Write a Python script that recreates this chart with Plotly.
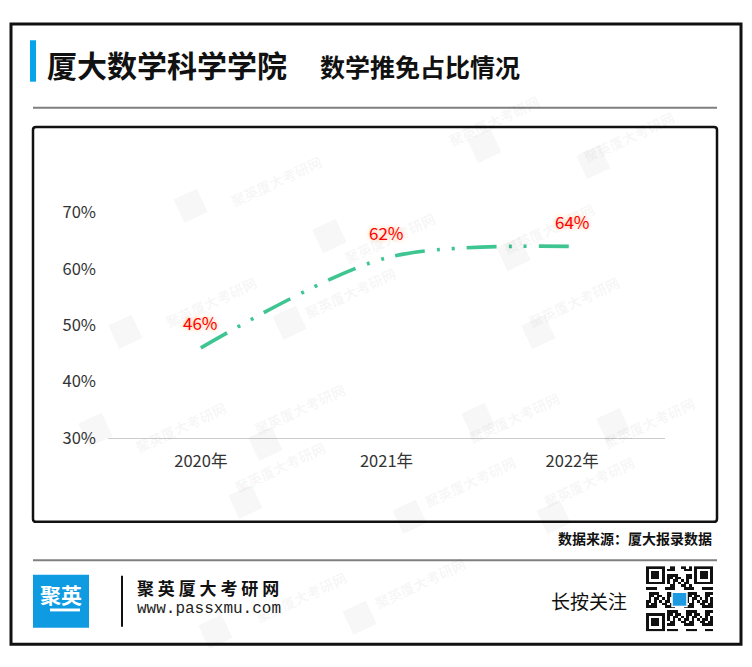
import plotly.graph_objects as go

# ---------------- data ----------------
years = ["2020年", "2021年", "2022年"]
ratio = [46, 62, 64]
label_text = ["46%", "62%", "64%"]
y_ticks = [30, 40, 50, 60, 70]
y_tick_text = ["30%", "40%", "50%", "60%", "70%"]

title_main = "厦大数学科学学院"
title_sub = "数学推免占比情况"
source_text = "数据来源：厦大报录数据"
brand_name = "聚 英 厦 大 考 研 网"
brand_url = "www.passxmu.com"
follow_text = "长按关注"
watermark = "聚英厦大考研网"

# page body has an 8px margin; figure is sized to fit inside the window
OFF = 8
W, H = 736, 651
FONT = "Noto Sans CJK SC"


def X(px):
    return (px - OFF) / W


def Y(py):
    return 1 - (py - OFF) / H


fig = go.Figure()

fig.add_trace(go.Scatter(
    x=years, y=ratio, mode="lines",
    line=dict(shape="spline", smoothing=0.85, color="#3ec592", width=3.6,
              dash="30px,12px,3px,12px,3px,12px"),
    hoverinfo="skip", showlegend=False,
))

# ---------- decorative QR code (pattern, not data) ----------
N = 25
qr = [[1 if ((i * i * 3 + j * 5 + i * j) % 7) < 4 else 0 for j in range(N)] for i in range(N)]


def finder(r0, c0):
    for a in range(7):
        for b in range(7):
            edge = a in (0, 6) or b in (0, 6)
            core = 2 <= a <= 4 and 2 <= b <= 4
            qr[r0 + a][c0 + b] = 1 if (edge or core) else 0
    for k in range(-1, 8):
        for (a, b) in ((r0 - 1, c0 + k), (r0 + 7, c0 + k), (r0 + k, c0 - 1), (r0 + k, c0 + 7)):
            if 0 <= a < N and 0 <= b < N:
                qr[a][b] = 0


finder(0, 0)
finder(0, N - 7)
finder(N - 7, 0)
for i in range(10, 15):
    for j in range(10, 15):
        qr[i][j] = 0

fig.add_trace(go.Heatmap(
    z=qr, xaxis="x2", yaxis="y2", showscale=False, hoverinfo="skip",
    colorscale=[[0, "white"], [1, "#111111"]], zmin=0, zmax=1,
))

shapes = []
shapes.append(dict(type="rect", xref="paper", yref="paper", x0=X(11), x1=X(741), y0=Y(11), y1=Y(655),
                   line=dict(color="#111111", width=3), layer="above"))
shapes.append(dict(type="rect", xref="paper", yref="paper", x0=X(30), x1=X(36), y0=Y(28), y1=Y(71),
                   fillcolor="#08a4ea", line=dict(width=0)))
shapes.append(dict(type="line", xref="paper", yref="paper", x0=X(33), x1=X(717), y0=Y(98), y1=Y(98),
                   line=dict(color="#7f7f7f", width=2)))
x0b, x1b, y0b, y1b, r = 33, 717, 118, 528, 3


def P(px, py):
    return f"{X(px)},{Y(py)}"


path = (f"M {P(x0b + r, y0b)} L {P(x1b - r, y0b)} Q {P(x1b, y0b)} {P(x1b, y0b + r)} "
        f"L {P(x1b, y1b - r)} Q {P(x1b, y1b)} {P(x1b - r, y1b)} L {P(x0b + r, y1b)} "
        f"Q {P(x0b, y1b)} {P(x0b, y1b - r)} L {P(x0b, y0b + r)} Q {P(x0b, y0b)} {P(x0b + r, y0b)} Z")
shapes.append(dict(type="path", xref="paper", yref="paper", path=path,
                   line=dict(color="#111111", width=2.5)))
shapes.append(dict(type="line", xref="paper", yref="paper", x0=X(33), x1=X(717), y0=Y(568), y1=Y(568),
                   line=dict(color="#7f7f7f", width=2)))
shapes.append(dict(type="rect", xref="paper", yref="paper", x0=X(33), x1=X(89), y0=Y(583), y1=Y(638),
                   fillcolor="#0e9be2", line=dict(width=0)))
shapes.append(dict(type="rect", xref="paper", yref="paper", x0=X(50), x1=X(80), y0=Y(618), y1=Y(621),
                   fillcolor="white", line=dict(width=0)))
shapes.append(dict(type="line", xref="paper", yref="paper", x0=X(122), x1=X(122), y0=Y(584), y1=Y(637),
                   line=dict(color="#111111", width=2)))
shapes.append(dict(type="rect", xref="paper", yref="paper", x0=X(672), x1=X(687), y0=Y(601), y1=Y(616),
                   fillcolor="#1c9be3", line=dict(color="white", width=1.5), layer="above"))

ann = []
ann.append(dict(text=f"<b>{title_main}</b>", x=X(45), y=Y(53), xref="paper", yref="paper",
                xanchor="left", yanchor="middle", showarrow=False,
                font=dict(family=FONT, size=30, color="#111111")))
ann.append(dict(text=f"<b>{title_sub}</b>", x=X(318), y=Y(55), xref="paper", yref="paper",
                xanchor="left", yanchor="middle", showarrow=False,
                font=dict(family=FONT, size=25, color="#111111")))
ann.append(dict(text=f"<b>{source_text}</b>", x=X(714), y=Y(545), xref="paper", yref="paper",
                xanchor="right", yanchor="middle", showarrow=False,
                font=dict(family=FONT, size=14, color="#111111")))
ann.append(dict(text=f"<b>{brand_name}</b>", x=X(135), y=Y(596), xref="paper", yref="paper",
                xanchor="left", yanchor="middle", showarrow=False,
                font=dict(family=FONT, size=17, color="#111111")))
ann.append(dict(text=brand_url, x=X(135), y=Y(619), xref="paper", yref="paper",
                xanchor="left", yanchor="middle", showarrow=False,
                font=dict(family="Liberation Mono", size=16, color="#222222")))
ann.append(dict(text=follow_text, x=X(549), y=Y(610), xref="paper", yref="paper",
                xanchor="left", yanchor="middle", showarrow=False,
                font=dict(family=FONT, size=19, color="#111111")))
ann.append(dict(text="<b>聚英</b>", x=X(61), y=Y(603), xref="paper", yref="paper",
                xanchor="center", yanchor="middle", showarrow=False,
                font=dict(family=FONT, size=21, color="white")))

# watermarks (faint)
wm_pos = [(225, 140), (545, 78), (680, 95), (390, 200), (600, 190), (160, 300), (350, 290),
          (625, 300), (130, 430), (300, 445), (565, 420), (700, 425), (280, 505), (470, 520),
          (640, 520), (250, 640), (420, 625)]
for (wx, wy) in wm_pos:
    ann.append(dict(text="<b>" + watermark + "</b>", x=X(wx), y=Y(wy), xref="paper", yref="paper",
                    showarrow=False, textangle=-25,
                    font=dict(family=FONT, size=14, color="rgba(0,0,0,0.055)")))
    ann.append(dict(text="■", x=X(wx - 62), y=Y(wy + 28), xref="paper", yref="paper",
                    showarrow=False, textangle=-25,
                    font=dict(family="DejaVu Sans", size=34, color="rgba(0,0,0,0.045)")))

# data labels
for xv, yv, t in zip(years, ratio, label_text):
    ann.append(dict(text=t, x=xv, y=yv, xref="x", yref="y", showarrow=False, yshift=25,
                    font=dict(family=FONT, size=17, color="#ff0000", shadow="0px 0px 4px #ffb27a")))

fig.update_layout(
    width=W, height=H, margin=dict(l=0, r=0, t=0, b=0),
    paper_bgcolor="white", plot_bgcolor="white",
    shapes=shapes, annotations=ann, showlegend=False,
    xaxis=dict(type="category", domain=[X(108), X(665)], range=[-0.5, 2.5],
               showline=True, linecolor="#cccccc", linewidth=1.2, ticks="",
               showgrid=False, zeroline=False, ticklabelstandoff=8,
               tickfont=dict(family=FONT, size=16.5, color="#333333")),
    yaxis=dict(domain=[Y(441), Y(207)], range=[30, 70], tickvals=y_ticks, ticktext=y_tick_text,
               showline=False, showgrid=False, zeroline=False, ticks="", ticklabelstandoff=11,
               tickfont=dict(family=FONT, size=16.5, color="#333333")),
    xaxis2=dict(domain=[X(646), X(713)], range=[-0.5, N - 0.5], visible=False, anchor="y2"),
    yaxis2=dict(domain=[Y(642), Y(574)], range=[N - 0.5, -0.5], visible=False, anchor="x2"),
)

fig.write_html("out.html")
